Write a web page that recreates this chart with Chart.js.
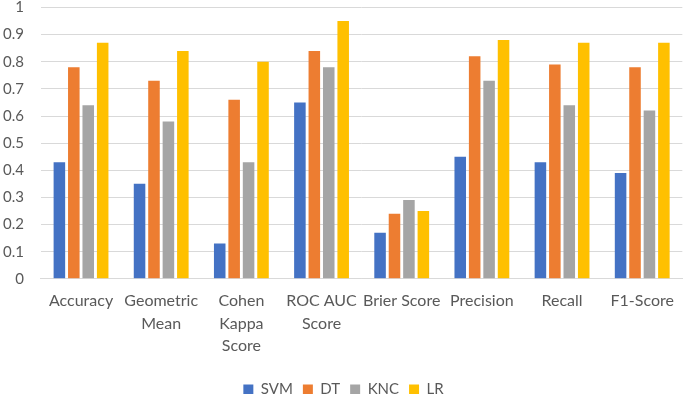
<!DOCTYPE html>
<html>
<head>
<meta charset="utf-8">
<script src="https://cdn.jsdelivr.net/npm/chart.js@4/dist/chart.umd.min.js"></script>
<style>
  html, body { margin: 0; padding: 0; background: #fff; }
  #wrap { width: 685px; height: 394px; }
</style>
</head>
<body>
<div id="wrap"><canvas id="chart1" width="685" height="394"></canvas></div>
<script>
var categories = [
    'Accuracy', ['Geometric', 'Mean'], ['Cohen', 'Kappa', 'Score'], ['ROC AUC', 'Score'],
    'Brier Score', 'Precision', 'Recall', 'F1-Score'
];
var svm = [0.43, 0.35, 0.13, 0.65, 0.17, 0.45, 0.43, 0.39];
var dt  = [0.78, 0.73, 0.66, 0.84, 0.24, 0.82, 0.79, 0.78];
var knc = [0.64, 0.58, 0.43, 0.78, 0.29, 0.73, 0.64, 0.62];
var lr  = [0.87, 0.84, 0.80, 0.95, 0.25, 0.88, 0.87, 0.87];

var FONT = 'Lato, "Open Sans", sans-serif';

function series(label, data, color) {
    return {
        label: label,
        data: data,
        backgroundColor: color,
        borderWidth: 0,
        categoryPercentage: 0.72,
        barPercentage: 0.8,
    };
}

var chartData = {
    labels: categories,
    datasets: [
        series('SVM', svm, '#4472C4'),
        series('DT', dt, '#ED7D31'),
        series('KNC', knc, '#A5A5A5'),
        series('LR', lr, '#FFC000'),
    ]
};

var chartOptions = {
    responsive: false,
    maintainAspectRatio: false,
    animation: false,
    layout: { padding: { top: 0, right: 1, left: 3, bottom: -13 } },
    plugins: {
        legend: {
            position: 'bottom',
            labels: {
                boxWidth: 10,
                boxHeight: 10,
                padding: 10,
                color: '#595959',
                font: { family: FONT, size: 15 },
            },
        },
        tooltip: { enabled: false },
    },
    scales: {
        x: {
            grid: { display: false, drawTicks: false },
            border: { color: '#D9D9D9', width: 1 },
            ticks: {
                color: '#595959',
                font: { family: FONT, size: 16, lineHeight: 1.4 },
                maxRotation: 0,
                autoSkip: false,
                padding: 11,
            },
            afterFit: function (scale) { scale.height += 4; },
        },
        y: {
            min: 0,
            max: 1,
            grid: { color: '#D9D9D9', drawTicks: true, tickLength: 17, tickColor: 'rgba(0,0,0,0)' },
            border: { display: false },
            ticks: {
                stepSize: 0.1,
                color: '#595959',
                font: { family: FONT, size: 15, lineHeight: 1.0 },
                padding: 0,
                callback: function (v) { return Math.round(v * 10) / 10; },
            },
        },
    },
};

var ctx = document.getElementById('chart1').getContext('2d');
var myChart = new Chart(ctx, {
    type: 'bar',
    data: chartData,
    options: chartOptions
});
</script>
</body>
</html>
